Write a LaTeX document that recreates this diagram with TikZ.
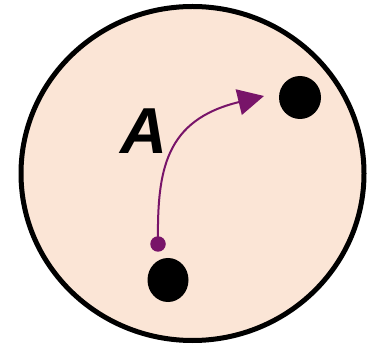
\documentclass[tikz,border=0pt]{standalone}
\usepackage{fontspec}
\setmainfont{Liberation Sans}
\usetikzlibrary{shapes.geometric,arrows.meta}
\definecolor{peach}{HTML}{FBE5D6}
\definecolor{plum}{RGB}{120,20,105}
\begin{document}
\begin{tikzpicture}[x=1pt,y=-1pt,
  cell/.style={ellipse,draw=black,line width=5pt,fill=peach,inner sep=0pt,minimum width=343pt,minimum height=334pt},
  blob/.style={ellipse,fill=black,inner sep=0pt},
  origin/.style={circle,fill=plum,inner sep=0pt,minimum size=15.5pt},
  move/.style={draw=plum,line width=2pt,-{Triangle[length=26pt,width=26pt]}}]
\useasboundingbox (0,0) rectangle (377,344);
\node[cell] (cell) at (192.5,173.5) {};
\node[blob,minimum width=42pt,minimum height=43pt] (b1) at (300,97.5) {};
\node[blob,minimum width=41pt,minimum height=44pt] (b2) at (168,280) {};
\node[origin] (src) at (158,244) {};
\node[anchor=base,inner sep=0pt,font=\bfseries\itshape\fontsize{65}{65}\selectfont] (labelA) at (144,154) {A};
\coordinate (tip) at (264,96);
\draw[move] (src.center) .. controls (157,170) and (165,120) .. (tip);
\end{tikzpicture}
\end{document}
